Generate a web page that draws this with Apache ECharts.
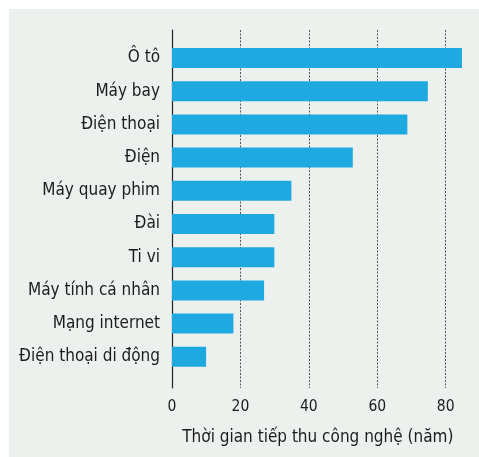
<!DOCTYPE html>
<html><head><meta charset="utf-8">
<script src="https://cdn.jsdelivr.net/npm/echarts@6/dist/echarts.min.js"></script>
<style>html,body{margin:0;padding:0;background:#fff}#c{width:479px;height:457px}</style>
</head><body><div id="c"></div>
<script>
const categories = ['Ô tô','Máy bay','Điện thoại','Điện','Máy quay phim','Đài','Ti vi','Máy tính cá nhân','Mạng internet','Điện thoại di động'];
const years = [85,75,69,53,35,30,30,27,18,10];
const axisName = 'Thời gian tiếp thu công nghệ (năm)';
const FONT = '"DejaVu Sans Condensed","Liberation Sans Narrow",sans-serif';
const TXT = '#1c1c1c';
const chart = echarts.init(document.getElementById('c'), null, {renderer:'canvas'});
chart.setOption({
  animation:false,
  backgroundColor:'#fff',
  graphic:[{type:'rect', silent:true, z:-10, shape:{x:9,y:9,width:470,height:448}, style:{fill:'#edf1ee'}}],
  grid:[
    {left:172, top:30, width:273.7, height:358},
    {left:172, top:41.4, width:307.9, height:332}
  ],
  xAxis:[
    {gridIndex:0, type:'value', min:0, max:80, interval:20,
     axisLine:{show:false}, axisTick:{show:false},
     axisLabel:{color:TXT, fontFamily:FONT, fontSize:15.5, margin:11},
     splitLine:{show:true, lineStyle:{color:'#555', width:1, type:[2,1.5]}},
     name:axisName, nameLocation:'middle', nameGap:41,
     nameTextStyle:{color:TXT, fontFamily:FONT, fontSize:17, padding:[0,0,0,18]}},
    {gridIndex:1, type:'value', min:0, max:90, show:false}
  ],
  yAxis:[
    {gridIndex:0, type:'value', show:true, axisLine:{show:true, lineStyle:{color:'#222', width:1.2}},
     axisLabel:{show:false}, axisTick:{show:false}, splitLine:{show:false}},
    {gridIndex:1, type:'category', data:categories, inverse:true,
     axisLine:{show:false}, axisTick:{show:false},
     axisLabel:{color:TXT, fontFamily:FONT, fontSize:17, margin:12}}
  ],
  series:[{type:'bar', xAxisIndex:1, yAxisIndex:1, data:years, barWidth:20,
    itemStyle:{color:'#1eaae1'}}]
});
</script></body></html>
